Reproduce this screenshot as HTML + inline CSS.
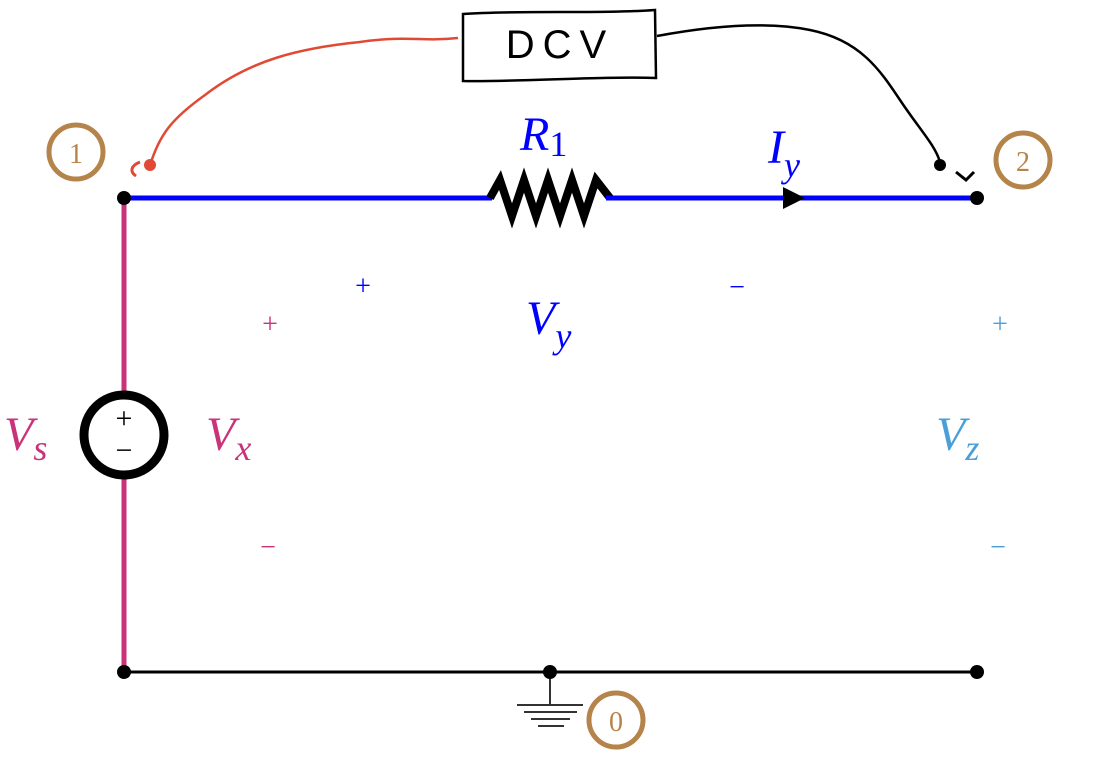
<!DOCTYPE html>
<html><head><meta charset="utf-8"><style>
html,body{margin:0;padding:0;background:#fff;}
svg{display:block;}
.lab{font-family:"Liberation Serif",serif;font-style:italic;}
</style></head><body>
<svg width="1094" height="764" viewBox="0 0 1094 764">
<g>
<path d="M463,14 C520,10 600,14 655,10 L656,78 C600,76 520,82 463,81 Z" fill="#fff" stroke="#000" stroke-width="2.5"/>
<text x="560" y="58" text-anchor="middle" font-family="Liberation Sans,sans-serif" font-size="40" letter-spacing="8" fill="#000">DCV</text>
</g>
<path d="M458,38 C420,42 410,35 360,42 C300,48 250,60 205,95 C170,120 160,135 150,165" fill="none" stroke="#e04a35" stroke-width="2.5"/>
<circle cx="150" cy="165" r="6" fill="#e04a35"/>
<path d="M140,162 C130,166 130,172 136,176" fill="none" stroke="#e04a35" stroke-width="3"/>
<path d="M657,36 C700,28 760,20 810,30 C860,40 880,70 900,100 C920,130 935,145 940,162" fill="none" stroke="#000" stroke-width="2.5"/>
<circle cx="940" cy="165" r="6" fill="#000"/>
<path d="M956,172 L966,180 L974,172" fill="none" stroke="#000" stroke-width="3"/>
<line x1="124" y1="198" x2="492" y2="198" stroke="#0000ff" stroke-width="5"/>
<polyline points="490,198 500,180 512,216 524,180 536,216 548,180 560,216 572,180 584,216 596,180 610,198" fill="none" stroke="#000" stroke-width="8" stroke-linejoin="miter"/>
<line x1="606" y1="198" x2="977" y2="198" stroke="#0000ff" stroke-width="5"/>
<polygon points="783,187 805,198 783,209" fill="#000"/>
<line x1="124" y1="198" x2="124" y2="392" stroke="#c8337a" stroke-width="5"/>
<line x1="124" y1="478" x2="124" y2="672" stroke="#c8337a" stroke-width="5"/>
<g>
<circle cx="124" cy="435" r="40" fill="#fff" stroke="#000" stroke-width="9"/>
<text x="124" y="428" text-anchor="middle" font-family="Liberation Serif,serif" font-size="30">+</text>
<text x="124" y="460" text-anchor="middle" font-family="Liberation Serif,serif" font-size="30">−</text>
</g>
<line x1="124" y1="672" x2="977" y2="672" stroke="#000" stroke-width="3"/>
<g stroke="#333" stroke-width="2">
<line x1="550" y1="672" x2="550" y2="705"/>
<line x1="517" y1="705" x2="583" y2="705"/>
<line x1="524" y1="712" x2="577" y2="712"/>
<line x1="531" y1="719" x2="570" y2="719"/>
<line x1="538" y1="726" x2="564" y2="726"/>
</g>
<circle cx="124" cy="198" r="7"/>
<circle cx="977" cy="198" r="7"/>
<circle cx="124" cy="672" r="7"/>
<circle cx="550" cy="672" r="7"/>
<circle cx="977" cy="672" r="7"/>
<g><circle cx="76" cy="152" r="27" fill="none" stroke="#b5844a" stroke-width="5"/><text x="76" y="163" text-anchor="middle" font-family="Liberation Serif,serif" font-size="28" fill="#b5844a">1</text></g>
<g><circle cx="1023" cy="160" r="27" fill="none" stroke="#b5844a" stroke-width="5"/><text x="1023" y="171" text-anchor="middle" font-family="Liberation Serif,serif" font-size="28" fill="#b5844a">2</text></g>
<g><circle cx="616" cy="720" r="27" fill="none" stroke="#b5844a" stroke-width="5"/><text x="616" y="731" text-anchor="middle" font-family="Liberation Serif,serif" font-size="28" fill="#b5844a">0</text></g>
<text class="lab" x="520" y="150" font-size="48" fill="#0000ff">R<tspan font-style="normal" font-size="36" dy="6">1</tspan></text>
<text class="lab" x="768" y="163" font-size="48" fill="#0000ff">I<tspan font-size="36" dy="14">y</tspan></text>
<text class="lab" x="526" y="334" font-size="48" fill="#0000ff">V<tspan font-size="36" dy="14">y</tspan></text>
<text x="363" y="295" text-anchor="middle" font-family="Liberation Serif,serif" font-size="28" fill="#0000ff">+</text>
<text x="737" y="296" text-anchor="middle" font-family="Liberation Serif,serif" font-size="28" fill="#0000ff">−</text>
<text class="lab" x="4" y="450" font-size="48" fill="#c8337a">V<tspan font-size="36" dy="10">s</tspan></text>
<text class="lab" x="206" y="450" font-size="48" fill="#c8337a">V<tspan font-size="36" dy="10">x</tspan></text>
<text x="270" y="333" text-anchor="middle" font-family="Liberation Serif,serif" font-size="28" fill="#c8337a">+</text>
<text x="268" y="556" text-anchor="middle" font-family="Liberation Serif,serif" font-size="28" fill="#c8337a">−</text>
<text class="lab" x="936" y="450" font-size="48" fill="#4a9fd8">V<tspan font-size="36" dy="10">z</tspan></text>
<text x="1000" y="333" text-anchor="middle" font-family="Liberation Serif,serif" font-size="28" fill="#4a9fd8">+</text>
<text x="998" y="556" text-anchor="middle" font-family="Liberation Serif,serif" font-size="28" fill="#4a9fd8">−</text>
</svg>
</body></html>
